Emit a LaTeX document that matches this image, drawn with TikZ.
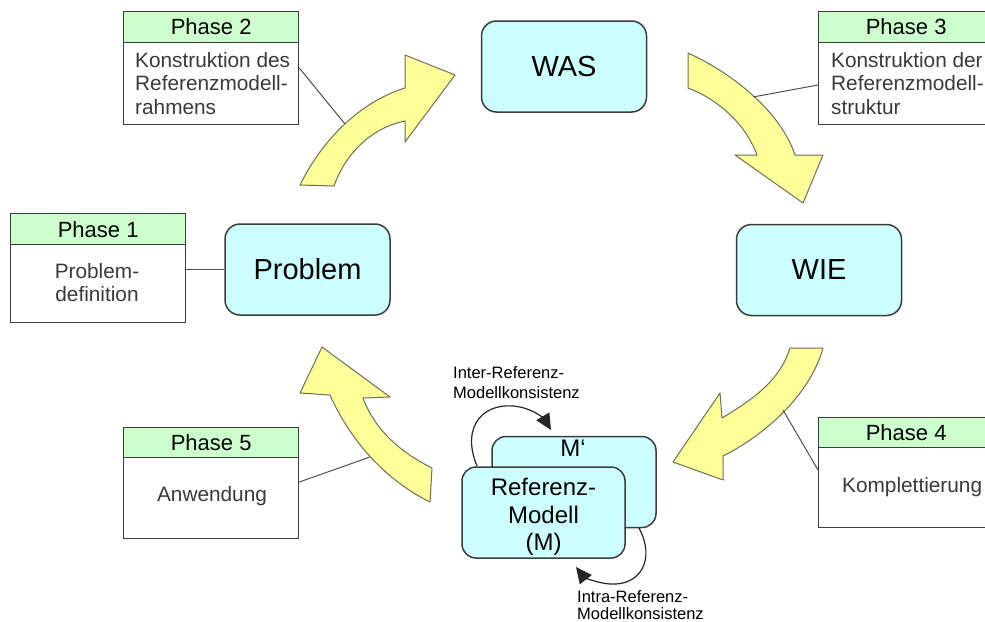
\documentclass[tikz,border=0pt]{standalone}
\usepackage{fontspec}
\setmainfont{Liberation Sans}
\usetikzlibrary{arrows.meta}
\definecolor{boxcyan}{HTML}{CCFFFF}
\definecolor{hdrgreen}{HTML}{CCFFCC}
\definecolor{flowyellow}{HTML}{FFFF99}
\definecolor{edgegray}{HTML}{3C3C3C}
\definecolor{bodytext}{HTML}{3A3A3A}
\definecolor{linkgray}{HTML}{505050}
\definecolor{flowedge}{HTML}{6E6E5A}

\begin{document}
\begin{tikzpicture}[x=1pt,y=-1pt,
  hdr/.style={draw=edgegray, line width=1.3pt, fill=hdrgreen, minimum width=175pt,
    minimum height=31pt, inner sep=0pt, anchor=north west, font=\fontsize{22}{24}\selectfont},
  bodybox/.style={draw=edgegray, line width=1.3pt, fill=white, minimum width=175pt,
    inner sep=0pt, anchor=north west},
  bodytxt/.style={inner sep=0pt, text=bodytext, font=\fontsize{20.8}{23.5}\selectfont},
  rbox/.style={draw=edgegray, line width=1.5pt, fill=boxcyan, rounded corners=15pt,
    minimum width=165pt, minimum height=91pt, inner sep=0pt, font=\fontsize{29}{32}\selectfont},
  mbox/.style={draw=edgegray, line width=1.5pt, fill=boxcyan, rounded corners=14pt,
    minimum width=164pt, minimum height=91pt, inner sep=0pt},
  flow/.style={draw=flowedge, line width=1pt, fill=flowyellow, line join=round},
  link/.style={draw=linkgray, line width=1pt},
  loop/.style={draw=black!85, line width=1.2pt, -{Triangle[length=16pt,width=15pt]}},
  smalltxt/.style={inner sep=0pt, text=black, align=left, font=\fontsize{16.5}{20}\selectfont}
]
\path[use as bounding box, clip] (0,0) rectangle (985,621);
\fill[white] (0,0) rectangle (985,621);

% ---- curved flow arrows between the stages ----
% Problem -> WAS
\path[flow] (300,185) .. controls (322,140) and (360,102) .. (405,88)
  -- (405,55) -- (455,75) -- (405,142) -- (405,121)
  .. controls (370,128) and (345,155) .. (334,186) -- cycle;
% WAS -> WIE
\path[flow] (688,53) .. controls (730,72) and (780,110) .. (795,155)
  -- (823,155) -- (803,203) -- (735,155) -- (757,155)
  .. controls (745,122) and (715,98) .. (688,88) -- cycle;
% WIE -> Referenzmodell
\path[flow] (823,348) .. controls (810,395) and (765,435) .. (723,456)
  -- (723,480) -- (673,462) -- (720,393) -- (722,418)
  .. controls (755,398) and (780,380) .. (790,348) -- cycle;
% Referenzmodell -> Problem
\path[flow] (430,502) .. controls (385,480) and (350,440) .. (330,395)
  -- (300,393) -- (322,347) -- (390,397) -- (363,398)
  .. controls (375,430) and (400,452) .. (432,468) -- cycle;

% points on the flow arrows where the phase labels attach
\coordinate (f1) at (345,124);
\coordinate (f2) at (753,97);
\coordinate (f3) at (783,410);
\coordinate (f4) at (370,457);

% ---- stage boxes ----
\node[rbox] (problem) at (307.5,269.5) {Problem};
\node[rbox] (was) at (564,66.5) {WAS};
\node[rbox] (wie) at (819,270) {WIE};

% ---- reference model pair ----
\node[mbox] (mprime) at (574,482) {};
\node[inner sep=0pt, anchor=north, font=\fontsize{24}{26}\selectfont] (mprimetxt) at (573,440) {M‘};
\node[mbox, minimum width=163pt] (refm) at (543.5,512.5) {};
\node[inner sep=0pt, anchor=north, align=center, font=\fontsize{24}{27.5}\selectfont] (refmtxt)
  at (543.5,478) {Referenz-\\Modell\\(M)};

% consistency loops
\coordinate (interstart) at (477,466);
\coordinate (interend) at (551,430);
\draw[loop] (interstart) .. controls (460,425) and (485,400) .. (520,407)
  .. controls (535,410) and (545,420) .. (interend);
\node[smalltxt, anchor=north west] (intertxt) at (453,366.5) {Inter-Referenz-\\Modellkonsistenz};

\coordinate (intrastart) at (639,528);
\coordinate (intraend) at (576,567);
\draw[loop] (intrastart) .. controls (656,560) and (640,586) .. (610,584)
  .. controls (595,583) and (583,576) .. (intraend);
\node[smalltxt, anchor=north west, font=\fontsize{16.5}{16.5}\selectfont] (intratxt) at (577,590.5) {Intra-Referenz-\\Modellkonsistenz};

% ---- phase boxes ----
% Phase 1
\node[bodybox, minimum height=78pt] (p1body) at (10,244) {};
\node[hdr] (p1head) at (10,213) {Phase 1};
\node[bodytxt, anchor=north, align=center] (p1txt) at (97,263) {Problem-\\definition};
% Phase 2
\node[bodybox, minimum height=82pt] (p2body) at (123,41.5) {};
\node[hdr] (p2head) at (123,10.5) {Phase 2};
\node[bodytxt, anchor=north west, align=left] (p2txt) at (135,52) {Konstruktion des\\Referenzmodell-\\rahmens};
% Phase 3
\node[bodybox, minimum height=82pt] (p3body) at (818,41.5) {};
\node[hdr] (p3head) at (818,10.5) {Phase 3};
\node[bodytxt, anchor=north west, align=left] (p3txt) at (831,52) {Konstruktion der\\Referenzmodell-\\struktur};
% Phase 4
\node[bodybox, minimum height=80pt] (p4body) at (818,447) {};
\node[hdr, minimum height=30pt] (p4head) at (818,417) {Phase 4};
\node[bodytxt, anchor=base west] (p4txt) at (842,492) {Komplettierung};
% Phase 5
\node[bodybox, minimum height=81.5pt] (p5body) at (123,456.5) {};
\node[hdr, minimum height=29.5pt] (p5head) at (123,427) {Phase 5};
\node[bodytxt, anchor=base] (p5txt) at (212,501.5) {Anwendung};

% ---- label connectors ----
\draw[link] (p1body.west |- problem.west) ++(175,0) coordinate (p1r) -- (problem.west);
\draw[link] (p2body.north east) ++(0,26.5) coordinate (p2r) -- (f1);
\draw[link] (p3body.north west) ++(0,43.5) coordinate (p3l) -- (f2);
\draw[link] (p4body.north west) ++(0,23) coordinate (p4l) -- (f3);
\draw[link] (p5body.north east) ++(0,25.5) coordinate (p5r) -- (f4);
\end{tikzpicture}
\end{document}
